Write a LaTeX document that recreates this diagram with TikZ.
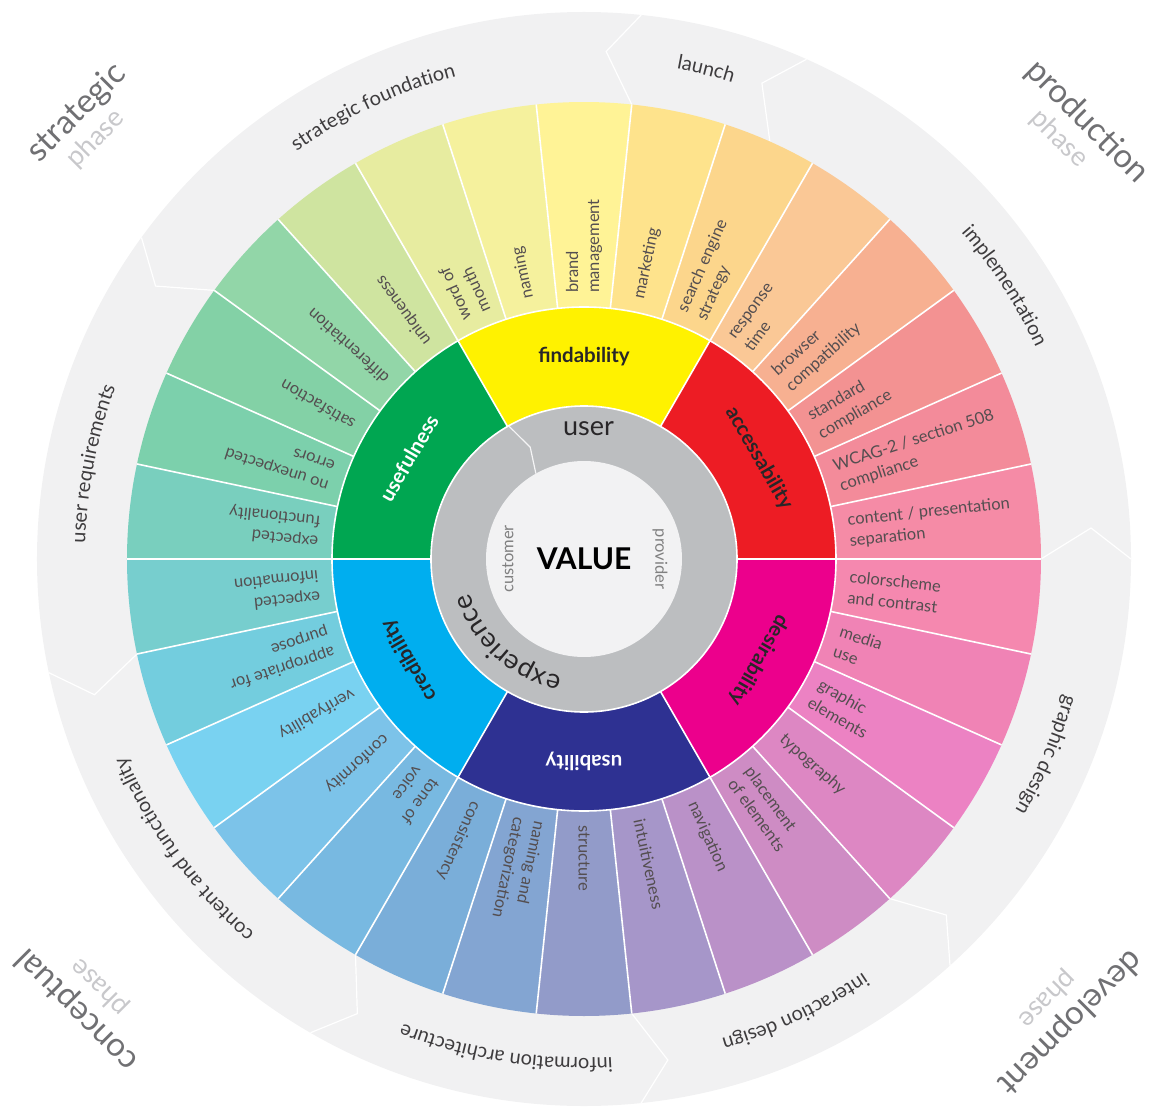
\documentclass[tikz,border=0pt]{standalone}
\usepackage{fontspec}
\setmainfont{Lato}
\usepackage{xcolor}
\usepackage{tikz}
\usetikzlibrary{decorations.text}

\definecolor{bandgray}{RGB}{241,241,242}
\definecolor{ringgray}{RGB}{188,190,192}
\definecolor{valuebg}{RGB}{242,242,243}
\definecolor{labeltext}{RGB}{84,78,80}
\definecolor{bandtext}{RGB}{62,60,62}
\definecolor{phasedark}{RGB}{112,112,115}
\definecolor{phaselight}{RGB}{200,200,203}
\definecolor{coretext}{RGB}{40,38,40}
\definecolor{findcol}{RGB}{255,242,0}
\definecolor{accesscol}{RGB}{237,28,36}
\definecolor{desirecol}{RGB}{236,0,140}
\definecolor{usabcol}{RGB}{46,49,146}
\definecolor{credcol}{RGB}{0,174,239}
\definecolor{usefulcol}{RGB}{0,166,81}
\definecolor{s0}{RGB}{245,139,166}
\definecolor{s1}{RGB}{243,139,154}
\definecolor{s2}{RGB}{243,146,146}
\definecolor{s3}{RGB}{247,176,145}
\definecolor{s4}{RGB}{250,200,150}
\definecolor{s5}{RGB}{252,214,140}
\definecolor{s6}{RGB}{254,227,140}
\definecolor{s7}{RGB}{255,243,150}
\definecolor{s8}{RGB}{245,241,157}
\definecolor{s9}{RGB}{231,236,160}
\definecolor{s10}{RGB}{207,228,160}
\definecolor{s11}{RGB}{146,214,168}
\definecolor{s12}{RGB}{131,209,166}
\definecolor{s13}{RGB}{124,208,172}
\definecolor{s14}{RGB}{121,207,190}
\definecolor{s15}{RGB}{119,206,206}
\definecolor{s16}{RGB}{115,205,222}
\definecolor{s17}{RGB}{121,210,241}
\definecolor{s18}{RGB}{124,195,233}
\definecolor{s19}{RGB}{120,185,225}
\definecolor{s20}{RGB}{122,174,217}
\definecolor{s21}{RGB}{131,165,210}
\definecolor{s22}{RGB}{146,155,201}
\definecolor{s23}{RGB}{166,150,201}
\definecolor{s24}{RGB}{186,145,200}
\definecolor{s25}{RGB}{206,140,196}
\definecolor{s26}{RGB}{221,135,195}
\definecolor{s27}{RGB}{236,130,195}
\definecolor{s28}{RGB}{240,131,181}
\definecolor{s29}{RGB}{245,136,175}

\newcommand{\sectorfont}{\fontsize{16.5}{21}\selectfont}
\newcommand{\bandfont}{\fontsize{20}{24}\selectfont}
\newcommand{\corefont}{\fontsize{20.5}{24}\selectfont\bfseries}
\newcommand{\userfont}{\fontsize{27}{30}\selectfont}
\newcommand{\valuefont}{\fontsize{30}{34}\selectfont\bfseries}
\newcommand{\cornerfont}{\fontsize{33}{38}\selectfont}
\newcommand{\phasefont}{\fontsize{27}{32}\selectfont}

\begin{document}
\begin{tikzpicture}[x=1pt,y=1pt]
\tikzstyle{every node}+=[inner sep=0pt]
\tikzstyle{sectorlabel}=[anchor=west, align=left, labeltext, font=\sectorfont]
\tikzstyle{corelabel}=[coretext, font=\corefont]
\tikzstyle{sepline}=[white, line width=1.6]
\tikzstyle{bandlabel}=[decorate, decoration={text along path, text align=center, text color=bandtext}]
\useasboundingbox (-584,-547) rectangle (569,559);
\fill [bandgray] (0,0) circle (547);
\foreach \a in {0,66,84,144,192,240,276,312}
  \draw [sepline, line width=1.2] (\a:457) -- ({\a+3.5}:508) -- (\a:547);
\foreach \a/\c/\t in {0/s0/{content / presentation\\separation}, 12/s1/{WCAG-2 / section 508\\compliance},
  24/s2/{standard\\compliance}, 36/s3/{browser\\compatibility}, 48/s4/{response\\time},
  60/s5/{search engine\\strategy}, 72/s6/{marketing}, 84/s7/{brand\\management}, 96/s8/{naming},
  108/s9/{word of\\mouth}, 120/s10/{uniqueness}, 132/s11/{differentiation}, 144/s12/{satisfaction},
  156/s13/{no unexpected\\errors}, 168/s14/{expected\\functionality}, 180/s15/{expected\\information},
  192/s16/{appropriate for\\purpose}, 204/s17/{verifyability}, 216/s18/{conformity}, 228/s19/{tone of\\voice},
  240/s20/{consistency}, 252/s21/{naming and\\categorization}, 264/s22/{structure}, 276/s23/{intuitiveness},
  288/s24/{navigation}, 300/s25/{placement\\of elements}, 312/s26/{typography}, 324/s27/{graphic\\elements},
  336/s28/{media\\use}, 348/s29/{colorscheme\\and contrast}}
{
  \fill [\c] (\a:252) -- (\a:457) arc [start angle=\a, end angle=\a+12, radius=457]
    -- ({\a+12}:252) arc [start angle=\a+12, end angle=\a, radius=252] -- cycle;
  \node (sector\a) [sectorlabel, rotate=\a+6] at ({\a+6}:266) {\t};
}
\foreach \a in {0,12,...,348}
  \draw [sepline] (\a:252) -- (\a:457);
\foreach \a/\c in {0/accesscol, 60/findcol, 120/usefulcol, 180/credcol, 240/usabcol, 300/desirecol}
  \fill [\c] (\a:153) -- (\a:252) arc [start angle=\a, end angle=\a+60, radius=252]
    -- ({\a+60}:153) arc [start angle=\a+60, end angle=\a, radius=153] -- cycle;
\foreach \a in {0,60,...,300}
  \draw [sepline] (\a:153) -- (\a:252);
\draw [sepline] (0,0) circle (252);
\fill [ringgray] (0,0) circle (153);
\draw [sepline] (0,0) circle (153);
\draw [white!85!ringgray, line width=1.2] (119.5:153) -- (115.7:124) -- (119.4:98);
\fill [valuebg] (0,0) circle (98);
\node (findability) [corelabel] at (90:202) {findability};
\node (accessability) [corelabel, rotate=-60] at (30:202) {accessability};
\node (desirability) [corelabel, rotate=-120] at (-30:202) {desirability};
\node (usability) [corelabel, white, rotate=180] at (270:202) {usability};
\node (credibility) [corelabel, rotate=120] at (210:202) {credibility};
\node (usefulness) [corelabel, white, rotate=60] at (150:202) {usefulness};
\node (user) [coretext, font=\userfont] at (88:130) {user};
\path [decorate, decoration={text along path, text={|\userfont|experience}, text align=center, text color=coretext}]
  (262:119) arc [start angle=262, end angle=194, radius=119];
\node (value) [black, font=\valuefont] at (0,0) {VALUE};
\node (customer) [gray, font=\sectorfont, rotate=90] at (180:76) {customer};
\node (provider) [gray, font=\sectorfont, rotate=-90] at (0:76) {provider};
\path [bandlabel, decoration={text={|\bandfont|implementation}}] (58:499) arc [start angle=58, end angle=8, radius=499];
\path [bandlabel, decoration={text={|\bandfont|launch}}] (84:499) arc [start angle=84, end angle=68, radius=499];
\path [bandlabel, decoration={text={|\bandfont|strategic foundation}}] (137:499) arc [start angle=137, end angle=93, radius=499];
\path [bandlabel, decoration={text={|\bandfont|user requirements}}] (189:499) arc [start angle=189, end angle=149, radius=499];
\path [bandlabel, decoration={text={|\bandfont|content and functionality}}] (238:499) arc [start angle=238, end angle=194, radius=499];
\path [bandlabel, decoration={text={|\bandfont|information architecture}}] (282:499) arc [start angle=282, end angle=240, radius=499];
\path [bandlabel, decoration={text={|\bandfont|interaction design}}] (311:499) arc [start angle=311, end angle=279, radius=499];
\path [bandlabel, decoration={text={|\bandfont|graphic design}}] (356:499) arc [start angle=356, end angle=318, radius=499];
\node (strategic) [phasedark, font=\cornerfont, rotate=45] at (-507,446) {strategic};
\node (strategicphase) [phaselight, font=\phasefont, rotate=45] at (-488,420) {phase};
\node (production) [phasedark, font=\cornerfont, rotate=-45] at (503,437) {production};
\node (productionphase) [phaselight, font=\phasefont, rotate=-45] at (475,420) {phase};
\node (development) [phasedark, font=\cornerfont, rotate=225] at (486,-463) {development};
\node (developmentphase) [phaselight, font=\phasefont, rotate=225] at (463,-440) {phase};
\node (conceptual) [phasedark, font=\cornerfont, rotate=135] at (-507,-451) {conceptual};
\node (conceptualphase) [phaselight, font=\phasefont, rotate=135] at (-484,-428) {phase};
\end{tikzpicture}
\end{document}
